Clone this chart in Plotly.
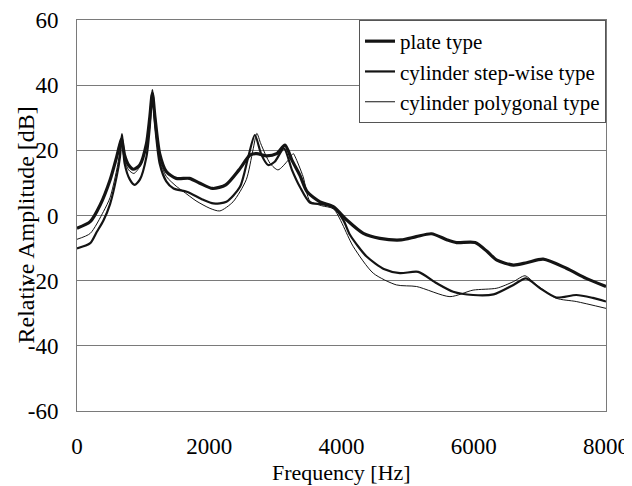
import plotly.graph_objects as go

# ---- data ----
plate_f = [0, 200, 350, 500, 600, 650, 675, 720, 780, 850, 950, 1050, 1100, 1140, 1180, 1250, 1350,
           1500, 1700, 1850, 2050, 2250, 2450, 2620, 2720, 2870, 3020, 3145, 3250, 3370, 3480,
           3675, 3875, 4080, 4330, 4580, 4900, 5130, 5360, 5600, 5740, 6020, 6200, 6350, 6600,
           6800, 7050, 7400, 7700, 8000]
plate_db = [-3.9, -1.9, 3.2, 10.9, 18, 22, 23.5, 18.5, 15.5, 14.2, 15.5, 22, 30, 37.5, 30, 19, 13.5,
            11.4, 11.4, 10, 8.3, 9.4, 14, 18.6, 19, 18.3, 19, 21.6, 17, 12.4, 7.3,
            4.2, 2.7, -1.4, -5.5, -7, -7.5, -6.5, -5.6, -7.5, -8.3, -8.3, -11, -13.7, -15.2,
            -14.5, -13.4, -16.2, -19.3, -21.8]

step_f = [0, 200, 300, 400, 500, 600, 650, 680, 720, 800, 870, 950, 1050, 1100, 1140, 1180, 1250,
          1350, 1460, 1660, 1910, 2060, 2260, 2465, 2590, 2690, 2790, 2890, 2990, 3130, 3250,
          3370, 3520, 3700, 3880, 4030, 4130, 4380, 4650, 4884, 5160, 5440, 5690, 5990, 6300,
          6600, 6790, 7000, 7250, 7550, 7800, 8000]
step_db = [-10.1, -8.5, -5, -1.5, 3.5, 12, 18, 25, 16, 11, 9.4, 11, 18, 27, 38.5, 28, 16,
           10.5, 8.3, 7.3, 4.8, 3.7, 4.2, 8.8, 18, 24.7, 18.6, 15.5, 16.5, 20.6, 14,
           8.8, 4, 3.5, 2.5, -1.5, -6, -12.6, -16.5, -17.7, -17.3, -20.8, -23.4, -24.4, -24.2,
           -21.3, -19.3, -22.3, -25.2, -24.4, -25.3, -26.4]

poly_f = [0, 200, 400, 500, 600, 660, 680, 720, 780, 860, 950, 1050, 1100, 1140, 1180, 1250, 1350,
          1500, 1600, 1800, 2010, 2160, 2360, 2560, 2660, 2720, 2780, 2920, 3040, 3195, 3270,
          3300, 3420, 3520, 3700, 3880, 4180, 4480, 4830, 5136, 5640, 5990, 6350, 6600, 6775,
          6950, 7250, 7550, 8000]
poly_db = [-7.3, -5.5, 1.2, 5.5, 14, 21, 24, 17, 14, 12.9, 15, 21, 29, 36.5, 28, 17, 12,
           9, 7.5, 4.5, 2.2, 1.4, 4.2, 11, 20, 25.2, 22, 16, 14, 17, 19,
           18, 11.9, 4.5, 3, 2, -9.6, -17.7, -21.3, -21.8, -24.9, -22.9, -22.3, -20.3, -18.5,
           -21.3, -25.4, -26.4, -28.5]

series_names = ["plate type", "cylinder step-wise type", "cylinder polygonal type"]
x_ticks = [0, 2000, 4000, 6000, 8000]
x_tick_labels = ["0", "2000", "4000", "6000", "8000"]
y_ticks = [-60, -40, -20, 0, 20, 40, 60]
y_tick_labels = ["-60", "-40", "-20", "0", "20", "40", "60"]

FONT = "Liberation Serif"
INK = "#141414"
GRID = "#7a7a7a"

fig = go.Figure()
for name, xs, ys, w in [(series_names[0], plate_f, plate_db, 3.2),
                        (series_names[1], step_f, step_db, 2.2),
                        (series_names[2], poly_f, poly_db, 1.0)]:
    fig.add_trace(go.Scatter(x=xs, y=ys, mode="lines", name=name,
                             line=dict(color=INK, width=w, shape="spline", smoothing=0.7)))

fig.update_layout(
    width=632, height=486,
    margin=dict(l=69, r=34, t=12, b=83, autoexpand=False),
    paper_bgcolor="white", plot_bgcolor="white",
    font=dict(family=FONT, size=22, color="black"),
    showlegend=True,
    legend=dict(x=1, y=1, xanchor="right", yanchor="top",
                bgcolor="white", bordercolor="#555555", borderwidth=1,
                font=dict(family=FONT, size=21, color="black"),
                itemwidth=30, tracegroupgap=0),
    xaxis=dict(range=[0, 8000], tickvals=x_ticks, ticktext=x_tick_labels,
               showgrid=False, zeroline=False, showline=True, linecolor=GRID,
               linewidth=1, mirror=True, ticks="", ticklabelstandoff=14,
               automargin=False, tickfont=dict(family=FONT, size=23)),
    yaxis=dict(range=[-60, 60], tickvals=y_ticks, ticktext=y_tick_labels,
               showgrid=True, gridcolor=GRID, gridwidth=1, zeroline=False,
               showline=True, linecolor=GRID, linewidth=1, mirror=True,
               ticks="", ticklabelstandoff=13, automargin=False,
               tickfont=dict(family=FONT, size=23)),
)

fig.add_annotation(text="Frequency [Hz]", xref="paper", yref="paper", x=0.5, y=0,
                   yshift=-61, showarrow=False, xanchor="center", yanchor="middle",
                   font=dict(family=FONT, size=22, color="black"))
fig.add_annotation(text="Relative Amplitude [dB]", xref="paper", yref="paper", x=0, y=0.5,
                   xshift=-52, yshift=-10, textangle=-90, showarrow=False,
                   xanchor="center", yanchor="middle",
                   font=dict(family=FONT, size=24, color="black"))

fig.write_html("out.html")
